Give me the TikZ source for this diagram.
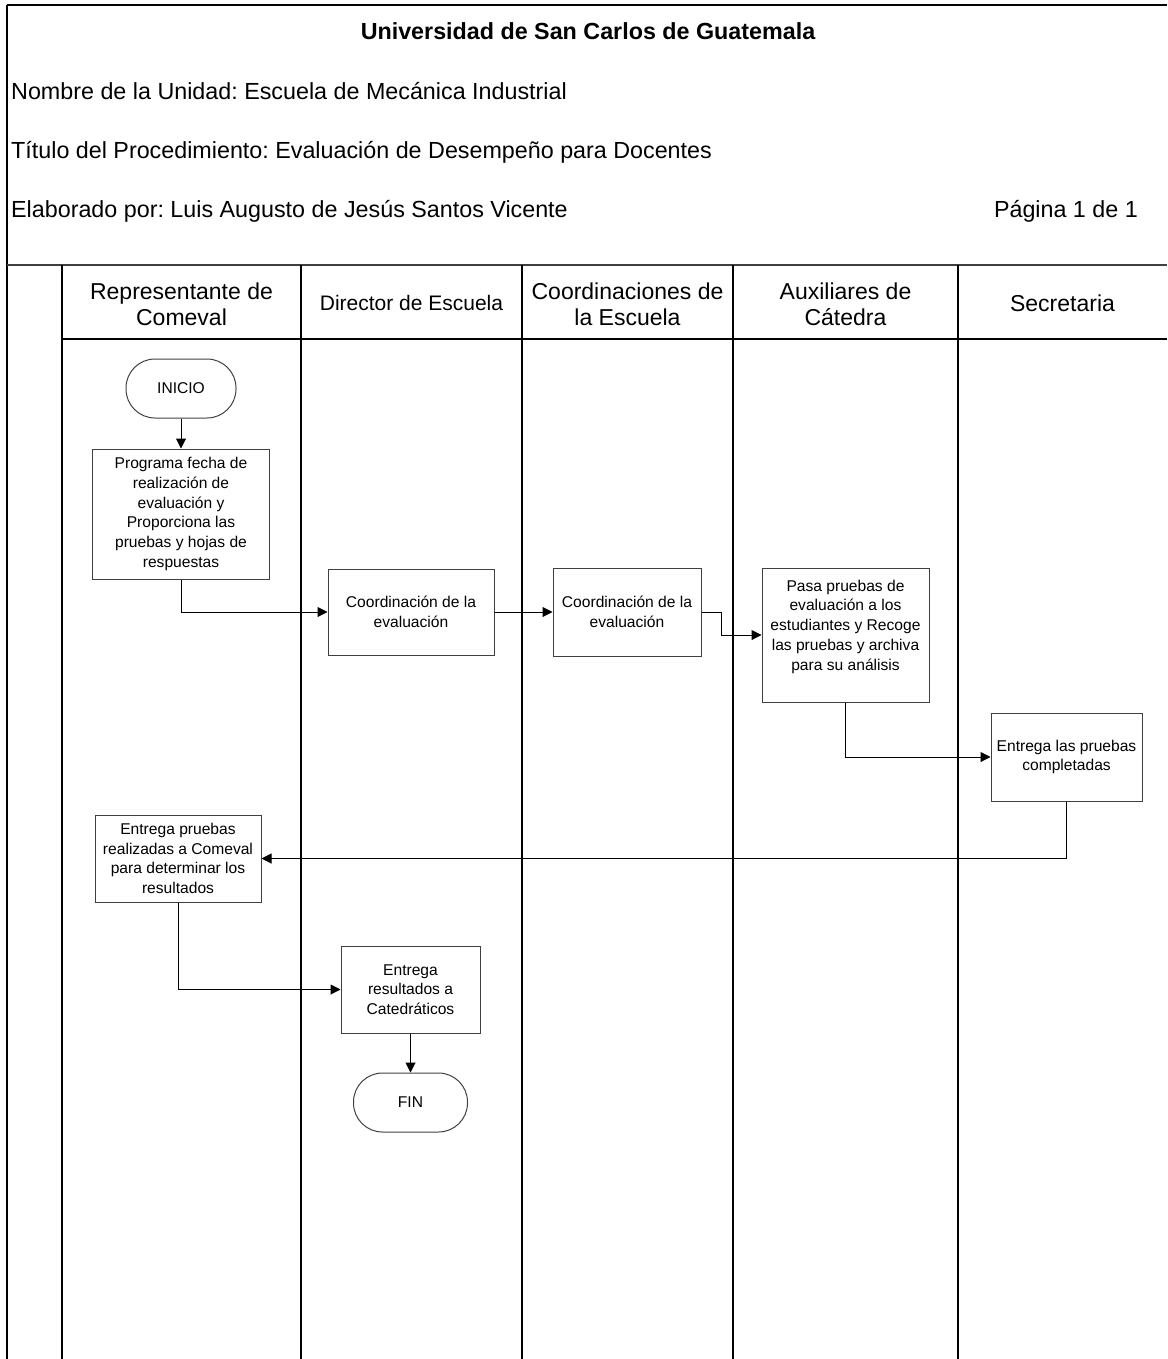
\documentclass[tikz,border=0pt]{standalone}
\usepackage{fontspec}
\setmainfont{Liberation Sans}
\usetikzlibrary{arrows.meta,calc}
\frenchspacing
\begin{document}
\begin{tikzpicture}[x=1pt,y=-1pt,
  hdr/.style={font=\fontsize{23.3}{26}\selectfont, inner sep=0pt},
  lanehdr/.style={font=\fontsize{23}{26}\selectfont, align=center, inner sep=0pt},
  procbox/.style={draw=black!75, line width=1pt, align=center, inner sep=2pt,
    font=\fontsize{15.6}{19.8}\selectfont},
  term/.style={procbox, rounded corners=29pt},
  flow/.style={line width=1pt, -{Triangle[length=10pt,width=10pt]}},
  lane/.style={line width=1.5pt}
]
\useasboundingbox (0,0) rectangle (1167,1359);

% frame
\draw[lane] (7,5) -- (1167,5);
\draw[lane] (7,5) -- (7,1359);
\draw[line width=2pt, black!75] (7,265) -- (1167,265);
\draw[lane] (62,339) -- (1167,339);
\foreach \x in {62,301,522,733,958} \draw[lane] (\x,265) -- (\x,1359);

% header texts
\node[hdr, anchor=base, font=\fontsize{23.3}{26}\selectfont\bfseries] (title) at (588,40) {Universidad de San Carlos de Guatemala};
\node[hdr, anchor=base west] (unidad) at (11,100) {Nombre de la Unidad: Escuela de Mecánica Industrial};
\node[hdr, anchor=base west] (titulo) at (11,159) {Título del Procedimiento: Evaluación de Desempeño para Docentes};
\node[hdr, anchor=base west] (elab) at (11,218) {Elaborado por: Luis Augusto de Jesús Santos Vicente};
\node[hdr, anchor=base east] (pag) at (1138,218) {Página 1 de 1};

% lane headers
\node[lanehdr] (l1) at (181.5,304) {Representante de\\Comeval};
\node[lanehdr, font=\fontsize{21}{26}\selectfont] (l2) at (411.5,303) {Director de Escuela};
\node[lanehdr] (l3) at (627.5,304) {Coordinaciones de\\la Escuela};
\node[lanehdr] (l4) at (845.5,304) {Auxiliares de\\Cátedra};
\node[lanehdr] (l5) at (1062.5,303) {Secretaria};

% nodes
\node[term, minimum width=110pt, minimum height=59pt] (ini) at (181,388.5) {INICIO};
\node[procbox, minimum width=177pt, minimum height=130pt] (b1) at (181,514)
  {Programa fecha de\\realización de\\evaluación y\\Proporciona las\\pruebas y hojas de\\respuestas};
\node[procbox, minimum width=166pt, minimum height=86pt] (b2) at (411,612)
  {Coordinación de la\\evaluación};
\node[procbox, minimum width=148pt, minimum height=88pt] (b3) at (627,612)
  {Coordinación de la\\evaluación};
\node[procbox, minimum width=167pt, minimum height=134pt] (b4) at (845.5,635)
  {Pasa pruebas de\\evaluación a los\\estudiantes y Recoge\\las pruebas y archiva\\para su análisis\\~};
\node[procbox, minimum width=151pt, minimum height=88pt, inner sep=1pt] (b5) at (1066.5,757)
  {Entrega las pruebas\\completadas};
\node[procbox, minimum width=166pt, minimum height=87pt] (b6) at (178,858.5)
  {Entrega pruebas\\realizadas a Comeval\\para determinar los\\resultados};
\node[procbox, minimum width=139pt, minimum height=87pt] (b7) at (410.5,989.5)
  {Entrega\\resultados a\\Catedráticos};
\node[term, minimum width=114pt, minimum height=59pt] (fin) at (410.5,1102.5) {FIN};

% connectors
\draw[flow] (ini) -- (b1);
\draw[flow] (b1.south) |- (b2.west);
\draw[flow] (b2.east) -- (b3.west);
\draw[flow] (b3.east) -- ++(20,0) |- (b4.west);
\draw[flow] (b4.south) |- (b5.west);
\draw[flow] (b5.south) |- (b6.east);
\draw[flow] (b6.south) |- (b7.west);
\draw[flow] (b7) -- (fin);
\end{tikzpicture}
\end{document}
